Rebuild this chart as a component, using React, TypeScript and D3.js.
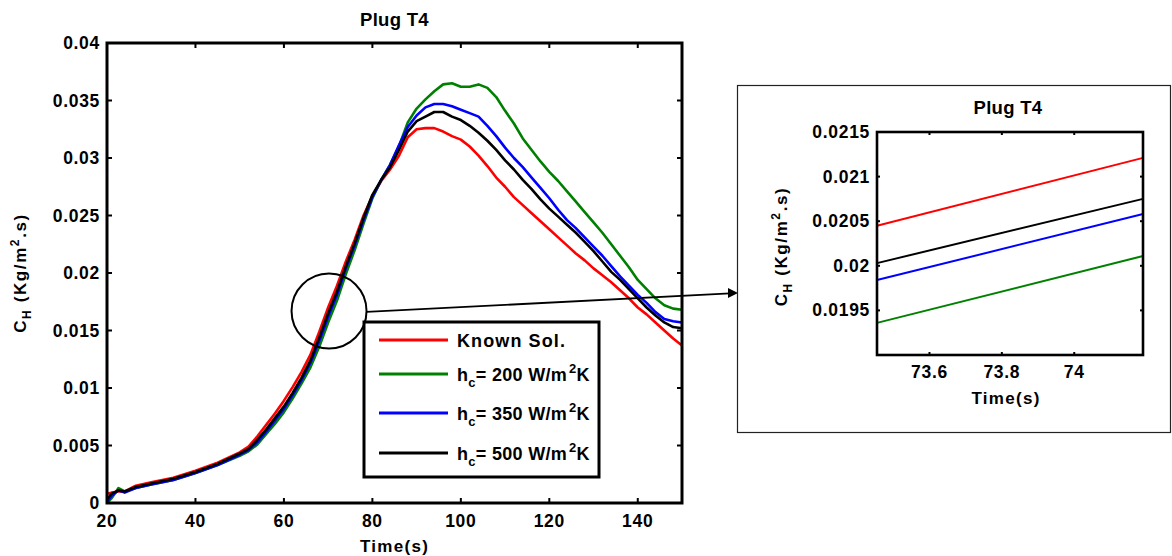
import React from "react";
import * as d3 from "d3";

// ---------- data ----------
const TIME = [20, 21, 22.6, 24, 26.5, 30, 35, 40, 45, 50, 52, 54, 56, 58, 60, 62, 64, 66, 68, 70, 72, 74, 76, 78, 80, 82, 84, 86, 88, 90, 92, 94, 96, 98, 100, 102, 104, 106, 108, 110, 112, 114, 116, 118, 120, 122, 124, 126, 128, 130, 132, 134, 136, 138, 140, 142, 144, 146, 148, 150];

const KNOWN = [0.0008, 0.0009, 0.001, 0.001, 0.0015, 0.0018, 0.0022, 0.0028, 0.0035, 0.0044, 0.0049, 0.0058, 0.0068, 0.0078, 0.0089, 0.0101, 0.0114, 0.0129, 0.0149, 0.017, 0.0189, 0.021, 0.0229, 0.025, 0.0267, 0.028, 0.029, 0.0302, 0.0318, 0.0325, 0.0326, 0.0326, 0.0323, 0.0319, 0.0316, 0.031, 0.0302, 0.0293, 0.0283, 0.0275, 0.0266, 0.0259, 0.0252, 0.0245, 0.0238, 0.0231, 0.0224, 0.0217, 0.0211, 0.0204, 0.0198, 0.0192, 0.0185, 0.0178, 0.017, 0.0164, 0.0157, 0.015, 0.0143, 0.0137];

const H200 = [0.0, 0.0004, 0.0013, 0.001, 0.0013, 0.0016, 0.002, 0.0026, 0.0033, 0.0041, 0.0045, 0.0051, 0.006, 0.0069, 0.0079, 0.0091, 0.0104, 0.0118, 0.0136, 0.0157, 0.0176, 0.0199, 0.022, 0.0243, 0.0265, 0.0281, 0.0294, 0.031, 0.0331, 0.0343, 0.0351, 0.0358, 0.0364, 0.0365, 0.0362, 0.0362, 0.0364, 0.0361, 0.0353, 0.0341, 0.033, 0.0317, 0.0307, 0.0297, 0.0288, 0.028, 0.0271, 0.0262, 0.0253, 0.0244, 0.0235, 0.0225, 0.0215, 0.0205, 0.0194, 0.0186, 0.0178, 0.0172, 0.0169, 0.0168];

const H350 = [0.0001, 0.0006, 0.0011, 0.0009, 0.0013, 0.0016, 0.002, 0.0026, 0.0033, 0.0042, 0.0046, 0.0053, 0.0062, 0.0072, 0.0082, 0.0094, 0.0107, 0.0122, 0.0141, 0.0162, 0.0181, 0.0204, 0.0224, 0.0246, 0.0266, 0.0281, 0.0294, 0.0311, 0.0327, 0.0337, 0.0344, 0.0347, 0.0347, 0.0345, 0.0342, 0.0339, 0.0336, 0.0328, 0.0319, 0.0309, 0.03, 0.0292, 0.0283, 0.0274, 0.0265, 0.0255, 0.0246, 0.0239, 0.0231, 0.0223, 0.0215, 0.0206, 0.0197, 0.0189, 0.0181, 0.0174, 0.0166, 0.016, 0.0158, 0.0157];

const H500 = [0.0003, 0.0008, 0.0011, 0.001, 0.0014, 0.0017, 0.0021, 0.0027, 0.0034, 0.0043, 0.0047, 0.0055, 0.0064, 0.0074, 0.0084, 0.0096, 0.0109, 0.0124, 0.0144, 0.0165, 0.0184, 0.0206, 0.0226, 0.0248, 0.0268, 0.0281, 0.0292, 0.0307, 0.0323, 0.0332, 0.0336, 0.034, 0.034, 0.0336, 0.0333, 0.0328, 0.0322, 0.0315, 0.0307, 0.0298, 0.029, 0.0281, 0.0273, 0.0264, 0.0256, 0.0249, 0.0242, 0.0235, 0.0227, 0.0219, 0.021, 0.0201, 0.0194, 0.0186, 0.0178, 0.017, 0.0163, 0.0157, 0.0153, 0.0152];

const X_TICKS = [20, 40, 60, 80, 100, 120, 140];
const Y_TICKS = [0, 0.005, 0.01, 0.015, 0.02, 0.025, 0.03, 0.035, 0.04];
const X_DOMAIN = [20, 150];
const Y_DOMAIN = [0, 0.04];

// zoomed inset
const ZOOM_T = [73.455, 74.19];
const ZOOM_KNOWN = [0.02045, 0.02121];
const ZOOM_H200 = [0.01936, 0.02011];
const ZOOM_H350 = [0.01984, 0.02058];
const ZOOM_H500 = [0.02003, 0.02075];
const INSET_X_TICKS = [73.6, 73.8, 74];
const INSET_Y_TICKS = [0.0195, 0.02, 0.0205, 0.021, 0.0215];
const INSET_Y_DOMAIN = [0.019, 0.0215];

const FOCUS_T = 70.2;
const FOCUS_V = 0.0167;

const SERIES_NAMES = ["Known Sol.", "200", "350", "500"];
const COLORS = ["#ff0000", "#008000", "#0000ff", "#000000"];

// ---------- drawing ----------
const FONT = "'Liberation Sans', Arial, Helvetica, sans-serif";

const fmt = (v: number) => String(+v.toFixed(4));

function YLabel({ x, y }: { x: number; y: number }) {
  return (
    <text
      transform={`translate(${x},${y}) rotate(-90)`}
      textAnchor="middle"
      fontFamily={FONT}
      fontWeight="bold"
      fontSize={17}
      letterSpacing={1.6}
    >
      C<tspan fontSize={12} dy={5}>H</tspan>
      <tspan dy={-5}> (Kg/m</tspan>
      <tspan fontSize={12} dy={-7}>2</tspan>
      <tspan dy={7}>.s)</tspan>
    </text>
  );
}

export default function App() {
  const W = 1172, H = 556;
  const P = { l: 107, r: 682, t: 43, b: 503 };
  const x = d3.scaleLinear().domain(X_DOMAIN).range([P.l, P.r]);
  const y = d3.scaleLinear().domain(Y_DOMAIN).range([P.b, P.t]);

  const mainSeries = [KNOWN, H200, H350, H500];
  const line = d3
    .line<number>()
    .x((_, i) => x(TIME[i]))
    .y((d) => y(d));

  const I = { l: 877, r: 1143, t: 132, b: 355 };
  const xi = d3.scaleLinear().domain(ZOOM_T).range([I.l, I.r]);
  const yi = d3.scaleLinear().domain(INSET_Y_DOMAIN).range([I.b, I.t]);
  const insetSeries = [ZOOM_KNOWN, ZOOM_H200, ZOOM_H350, ZOOM_H500];
  const iline = d3
    .line<number>()
    .x((_, i) => xi(ZOOM_T[i]))
    .y((d) => yi(d));

  const cx = x(FOCUS_T);
  const cy = y(FOCUS_V);
  const cr = 37.5;

  const tickFont = { fontFamily: FONT, fontWeight: "bold" as const, fontSize: 17.5, letterSpacing: 0.7 };
  const titleFont = { fontFamily: FONT, fontWeight: "bold" as const, fontSize: 18.5, letterSpacing: 0.3 };
  const labFont = { fontFamily: FONT, fontWeight: "bold" as const, fontSize: 17, letterSpacing: 1.3 };
  const legFont = { fontFamily: FONT, fontWeight: "bold" as const, fontSize: 18, letterSpacing: 0.5 };

  const legend = { l: 364, t: 322, r: 599, b: 477 };
  const legRows = [340, 374, 413, 453];

  const arrowTip = { x: 738, y: 293 };
  const arrowStart = { x: cx + cr, y: cy + 1 };

  return (
    <svg width={W} height={H} style={{ position: "absolute", left: 0, top: 0, background: "#fff" }}>
      <rect x={0} y={0} width={W} height={H} fill="#fff" />
      {/* main title */}
      <text x={(P.l + P.r) / 2} y={26} textAnchor="middle" {...titleFont}>
        Plug T4
      </text>

      {/* curves */}
      <g fill="none" strokeWidth={2.6} strokeLinejoin="round">
        {mainSeries.map((s, k) => (
          <path key={k} d={line(s) || ""} stroke={COLORS[k]} />
        ))}
      </g>

      {/* ticks */}
      <g stroke="#000" strokeWidth={2}>
        {X_TICKS.map((t) => (
          <g key={t}>
            <line x1={x(t)} x2={x(t)} y1={P.b} y2={P.b - 5} />
            <line x1={x(t)} x2={x(t)} y1={P.t} y2={P.t + 5} />
          </g>
        ))}
        {Y_TICKS.map((v) => (
          <g key={v}>
            <line x1={P.l} x2={P.l + 5} y1={y(v)} y2={y(v)} />
            <line x1={P.r} x2={P.r - 5} y1={y(v)} y2={y(v)} />
          </g>
        ))}
      </g>
      <rect x={P.l} y={P.t} width={P.r - P.l} height={P.b - P.t} fill="none" stroke="#000" strokeWidth={3} />

      {X_TICKS.map((t) => (
        <text key={t} x={x(t)} y={527} textAnchor="middle" {...tickFont}>
          {t}
        </text>
      ))}
      {Y_TICKS.map((v) => (
        <text key={v} x={100} y={y(v) + 6} textAnchor="end" {...tickFont}>
          {fmt(v)}
        </text>
      ))}
      <text x={(P.l + P.r) / 2} y={552} textAnchor="middle" {...labFont}>
        Time(s)
      </text>
      <YLabel x={26} y={(P.t + P.b) / 2} />

      {/* focus circle and arrow */}
      <circle cx={cx} cy={cy} r={cr} fill="none" stroke="#000" strokeWidth={2} />
      <line x1={arrowStart.x} y1={arrowStart.y} x2={arrowTip.x - 8} y2={arrowTip.y + 0.4} stroke="#000" strokeWidth={1.8} />
      <path
        d={`M${arrowTip.x},${arrowTip.y} L${arrowTip.x - 10},${arrowTip.y - 5} L${arrowTip.x - 10},${arrowTip.y + 5} Z`}
        fill="#000"
      />

      {/* legend */}
      <rect x={legend.l} y={legend.t} width={legend.r - legend.l} height={legend.b - legend.t} fill="#fff" stroke="#000" strokeWidth={3} />
      {SERIES_NAMES.map((name, k) => (
        <g key={name}>
          <line x1={379} x2={448} y1={legRows[k]} y2={legRows[k]} stroke={COLORS[k]} strokeWidth={3} />
          {k === 0 ? (
            <text x={457} y={legRows[k] + 7} {...legFont} letterSpacing={1.1}>
              {name}
            </text>
          ) : (
            <text x={457} y={legRows[k] + 7} {...legFont} letterSpacing={0.3}>
              h<tspan fontSize={13} dy={6}>c</tspan>
              <tspan dy={-6}>{`= ${name} W/m`}</tspan>
              <tspan fontSize={13} dy={-8} dx={2}>2</tspan>
              <tspan dy={8}>K</tspan>
            </text>
          )}
        </g>
      ))}

      {/* inset frame */}
      <rect x={737.5} y={85.5} width={433} height={347} fill="none" stroke="#222" strokeWidth={1.2} />
      <text x={(I.l + I.r) / 2 - 2} y={114} textAnchor="middle" {...titleFont}>
        Plug T4
      </text>
      <g fill="none" strokeWidth={2}>
        {insetSeries.map((s, k) => (
          <path key={k} d={iline(s) || ""} stroke={COLORS[k]} />
        ))}
      </g>
      <g stroke="#000" strokeWidth={2}>
        {INSET_X_TICKS.map((t) => (
          <g key={t}>
            <line x1={xi(t)} x2={xi(t)} y1={I.b} y2={I.b - 3} />
            <line x1={xi(t)} x2={xi(t)} y1={I.t} y2={I.t + 3} />
          </g>
        ))}
        {INSET_Y_TICKS.map((v) => (
          <g key={v}>
            <line x1={I.l} x2={I.l + 3} y1={yi(v)} y2={yi(v)} />
            <line x1={I.r} x2={I.r - 3} y1={yi(v)} y2={yi(v)} />
          </g>
        ))}
      </g>
      <rect x={I.l} y={I.t} width={I.r - I.l} height={I.b - I.t} fill="none" stroke="#000" strokeWidth={2.6} />
      {INSET_X_TICKS.map((t) => (
        <text key={t} x={xi(t)} y={378} textAnchor="middle" {...tickFont}>
          {fmt(t)}
        </text>
      ))}
      {INSET_Y_TICKS.map((v) => (
        <text key={v} x={870} y={yi(v) + 6} textAnchor="end" {...tickFont}>
          {fmt(v)}
        </text>
      ))}
      <text x={(I.l + I.r) / 2 - 4} y={404} textAnchor="middle" {...labFont}>
        Time(s)
      </text>
      <YLabel x={787} y={(I.t + I.b) / 2 + 3} />
    </svg>
  );
}
